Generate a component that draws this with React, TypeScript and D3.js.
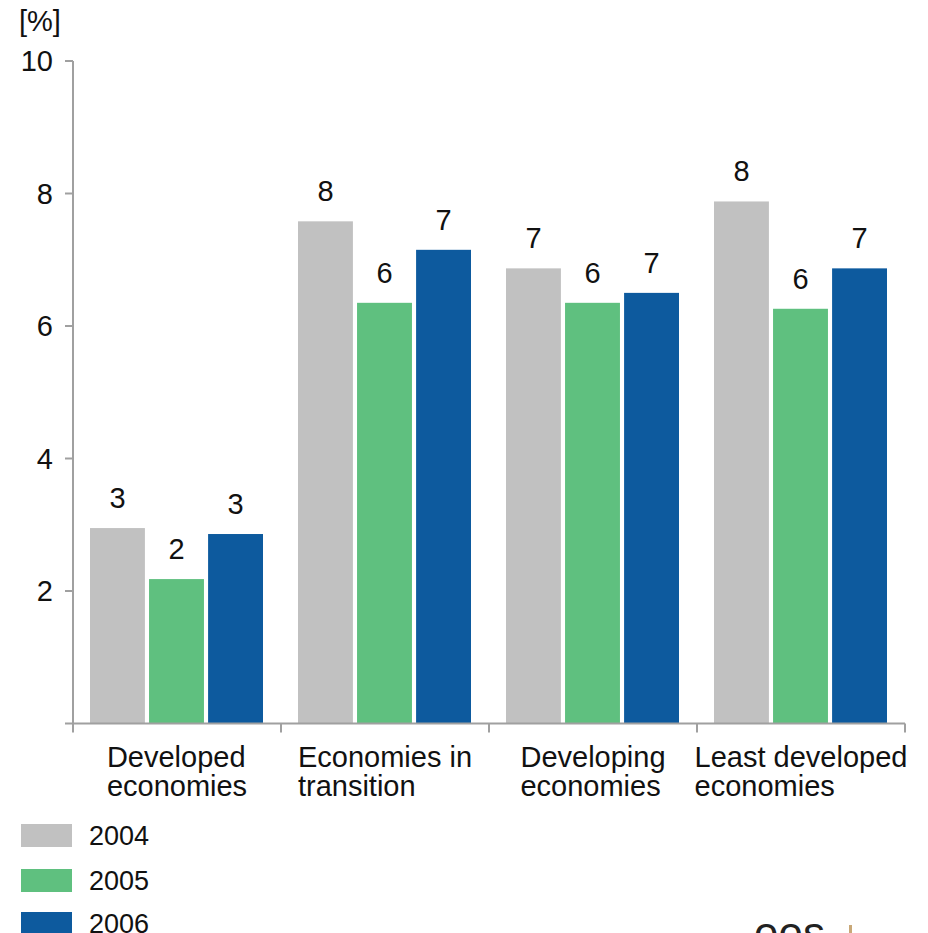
import React, { useEffect, useRef } from "react";
import * as d3 from "d3";

const categories = [
  ["Developed", "economies"],
  ["Economies in", "transition"],
  ["Developing", "economies"],
  ["Least developed", "economies"],
];
const seriesNames = ["2004", "2005", "2006"];
const values2004 = [2.95, 7.58, 6.87, 7.88];
const values2005 = [2.18, 6.35, 6.35, 6.26];
const values2006 = [2.86, 7.15, 6.5, 6.87];
const yTicks = [2, 4, 6, 8, 10];
const colors = ["#c1c1c1", "#5fc07f", "#0d5a9e"];

export default function App() {
  const ref = useRef<SVGSVGElement>(null);
  useEffect(() => {
    const svg = d3.select(ref.current);
    svg.selectAll("*").remove();
    const font = "'Liberation Sans', Arial, sans-serif";
    const fs = 29;
    const left = 73, right = 905, top = 61, bottom = 723.5;
    const y = d3.scaleLinear().domain([0, 10]).range([bottom, top]);
    const x0 = d3.scaleBand().domain(categories.map((_, i) => String(i))).range([left, right]).paddingInner(0).paddingOuter(0);
    const x1 = d3.scaleBand().domain(seriesNames).range([17, x0.bandwidth() - 18]).paddingInner(0.07);
    const series = [values2004, values2005, values2006];
    const axisColor = "#a0a0a0";

    categories.forEach((_, ci) => {
      const g = svg.append("g").attr("transform", `translate(${x0(String(ci))},0)`);
      series.forEach((vals, si) => {
        const v = vals[ci];
        g.append("rect")
          .attr("x", x1(seriesNames[si])!)
          .attr("y", y(v))
          .attr("width", x1.bandwidth())
          .attr("height", y(0) - y(v))
          .attr("fill", colors[si]);
        g.append("text")
          .attr("x", x1(seriesNames[si])! + x1.bandwidth() / 2)
          .attr("y", y(v) - 20)
          .attr("text-anchor", "middle")
          .attr("font-family", font)
          .attr("font-size", fs)
          .attr("fill", "#111")
          .text(d3.format(".0f")(v));
      });
    });

    svg.append("line").attr("x1", left).attr("x2", left).attr("y1", top).attr("y2", bottom).attr("stroke", axisColor).attr("stroke-width", 2);
    yTicks.forEach((t) => {
      svg.append("line").attr("x1", left - 8).attr("x2", left).attr("y1", y(t)).attr("y2", y(t)).attr("stroke", axisColor).attr("stroke-width", 2);
      svg.append("text")
        .attr("x", 53).attr("y", y(t) + 10)
        .attr("text-anchor", "end")
        .attr("font-family", font).attr("font-size", fs).attr("fill", "#111")
        .text(t);
    });
    svg.append("text").attr("x", 19).attr("y", 31).attr("font-family", font).attr("font-size", fs).attr("fill", "#111").text("[%]");

    svg.append("line").attr("x1", left - 8).attr("x2", right).attr("y1", bottom).attr("y2", bottom).attr("stroke", axisColor).attr("stroke-width", 2);
    const bounds = [...categories.map((_, i) => x0(String(i))!), right];
    bounds.forEach((bx) => {
      svg.append("line").attr("x1", bx).attr("x2", bx).attr("y1", bottom).attr("y2", bottom + 9).attr("stroke", axisColor).attr("stroke-width", 2);
    });
    categories.forEach((lines, ci) => {
      const cx = x0(String(ci))! + x0.bandwidth() / 2;
      const t = svg.append("text").attr("font-family", font).attr("font-size", fs).attr("fill", "#111");
      lines.forEach((ln, li) => {
        t.append("tspan").attr("x", 0).attr("y", 767 + li * 29).text(ln);
      });
      const w = (t.node() as SVGTextElement).getBBox().width;
      t.selectAll("tspan").attr("x", cx - w / 2);
    });

    seriesNames.forEach((s, i) => {
      const ly = [824, 869, 912][i];
      svg.append("rect").attr("x", 21).attr("y", ly).attr("width", 51).attr("height", 23).attr("fill", colors[i]);
      svg.append("text").attr("x", 89).attr("y", ly + 21).attr("font-family", font).attr("font-size", 27).attr("fill", "#111").text(s);
    });

    svg.append("text").attr("x", 754).attr("y", 948).attr("font-family", font).attr("font-size", 44).attr("fill", "#222").text("ees");
    svg.append("rect").attr("x", 849).attr("y", 925).attr("width", 3).attr("height", 10).attr("fill", "#c9a878");
  }, []);
  return (
    <svg ref={ref} width={928} height={933} style={{ position: "absolute", left: 0, top: 0, background: "#fff" }} />
  );
}
